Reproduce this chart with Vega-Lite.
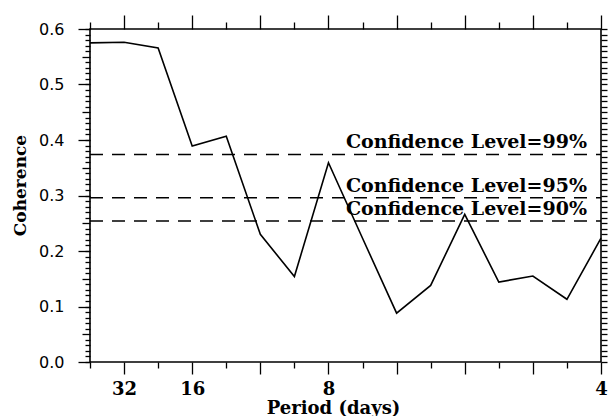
{
  "$schema": "https://vega.github.io/schema/vega-lite/v6.json",
  "width": 511,
  "height": 333,
  "autosize": {"type": "none"},
  "padding": {"left": 90, "top": 29, "right": 7, "bottom": 54},
  "background": "white",
  "config": {
    "view": {"stroke": "black", "strokeWidth": 1.6},
    "axis": {"domain": false, "grid": false, "tickColor": "black", "tickWidth": 1.3, "labelColor": "black", "titleColor": "black"}
  },
  "datasets": {
    "coherence": [
      {"harmonic": 1, "coherence": 0.575},
      {"harmonic": 2, "coherence": 0.576},
      {"harmonic": 3, "coherence": 0.566},
      {"harmonic": 4, "coherence": 0.389},
      {"harmonic": 5, "coherence": 0.407},
      {"harmonic": 6, "coherence": 0.230},
      {"harmonic": 7, "coherence": 0.154},
      {"harmonic": 8, "coherence": 0.359},
      {"harmonic": 9, "coherence": 0.223},
      {"harmonic": 10, "coherence": 0.088},
      {"harmonic": 11, "coherence": 0.138},
      {"harmonic": 12, "coherence": 0.266},
      {"harmonic": 13, "coherence": 0.144},
      {"harmonic": 14, "coherence": 0.155},
      {"harmonic": 15, "coherence": 0.113},
      {"harmonic": 16, "coherence": 0.223}
    ],
    "levels": [
      {"level": 0.374, "label": "Confidence Level=99%"},
      {"level": 0.296, "label": "Confidence Level=95%"},
      {"level": 0.254, "label": "Confidence Level=90%"}
    ]
  },
  "layer": [
    {
      "data": {"name": "coherence"},
      "mark": {"type": "line", "color": "black", "strokeWidth": 1.6},
      "encoding": {
        "x": {
          "field": "harmonic", "type": "quantitative",
          "scale": {"domain": [1, 16], "nice": false, "zero": false},
          "axis": {
            "orient": "bottom",
            "values": [1, 2, 3, 4, 5, 6, 7, 8, 9, 10, 11, 12, 13, 14, 15, 16],
            "tickSize": {"condition": {"test": "datum.value % 2 === 0", "value": 12}, "value": 6},
            "labelExpr": "indexof([2, 4, 8, 16], datum.value) >= 0 ? format(64 / datum.value, 'd') : ''",
            "labelFont": "DejaVu Serif", "labelFontWeight": "bold", "labelFontSize": 18,
            "labelPadding": 6, "labelFlush": false, "labelOverlap": false, "labelBound": false,
            "title": "Period (days)", "titleFont": "DejaVu Serif", "titleFontSize": 18, "titleFontWeight": "bold",
            "titleX": 243, "titleY": 51, "titleBaseline": "alphabetic"
          }
        },
        "y": {
          "field": "coherence", "type": "quantitative",
          "scale": {"domain": [0, 0.6], "nice": false},
          "axis": {
            "orient": "left",
            "values": [0, 0.1, 0.2, 0.3, 0.4, 0.5, 0.6],
            "format": ".1f", "tickSize": 12,
            "labelFont": "DejaVu Sans", "labelFontSize": 16, "labelPadding": 14,
            "title": "Coherence", "titleFont": "DejaVu Serif", "titleFontSize": 17, "titleFontWeight": "bold",
            "titleX": -65, "titleY": 156, "titleBaseline": "alphabetic"
          }
        }
      }
    },
    {
      "data": {"name": "levels"},
      "mark": {"type": "rule", "color": "black", "strokeWidth": 1.5, "strokeDash": [13, 9]},
      "encoding": {
        "x": {
          "datum": 1, "type": "quantitative",
          "axis": {
            "orient": "top",
            "values": [1, 2, 3, 4, 5, 6, 7, 8, 9, 10, 11, 12, 13, 14, 15, 16],
            "tickSize": {"condition": {"test": "datum.value % 2 === 0", "value": 14}, "value": 7},
            "labels": false, "title": null
          }
        },
        "x2": {"datum": 16},
        "y": {
          "field": "level", "type": "quantitative",
          "axis": {
            "orient": "left",
            "values": [0, 0.01, 0.02, 0.03, 0.04, 0.05, 0.06, 0.07, 0.08, 0.09, 0.1, 0.11, 0.12, 0.13, 0.14, 0.15, 0.16, 0.17, 0.18, 0.19, 0.2, 0.21, 0.22, 0.23, 0.24, 0.25, 0.26, 0.27, 0.28, 0.29, 0.3, 0.31, 0.32, 0.33, 0.34, 0.35, 0.36, 0.37, 0.38, 0.39, 0.4, 0.41, 0.42, 0.43, 0.44, 0.45, 0.46, 0.47, 0.48, 0.49, 0.5, 0.51, 0.52, 0.53, 0.54, 0.55, 0.56, 0.57, 0.58, 0.59, 0.6],
            "tickSize": {"condition": {"test": "abs((datum.value * 100) % 10 - 5) < 0.01", "value": 8}, "value": 5},
            "labels": false, "title": null
          }
        }
      }
    },
    {
      "data": {"name": "levels"},
      "mark": {"type": "text", "align": "right", "baseline": "alphabetic", "dx": -14, "dy": -6, "font": "DejaVu Serif", "fontWeight": "bold", "fontSize": 19, "color": "black"},
      "encoding": {
        "x": {"datum": 16, "type": "quantitative", "axis": null},
        "y": {
          "field": "level", "type": "quantitative",
          "axis": {
            "orient": "right",
            "values": [0, 0.01, 0.02, 0.03, 0.04, 0.05, 0.06, 0.07, 0.08, 0.09, 0.1, 0.11, 0.12, 0.13, 0.14, 0.15, 0.16, 0.17, 0.18, 0.19, 0.2, 0.21, 0.22, 0.23, 0.24, 0.25, 0.26, 0.27, 0.28, 0.29, 0.3, 0.31, 0.32, 0.33, 0.34, 0.35, 0.36, 0.37, 0.38, 0.39, 0.4, 0.41, 0.42, 0.43, 0.44, 0.45, 0.46, 0.47, 0.48, 0.49, 0.5, 0.51, 0.52, 0.53, 0.54, 0.55, 0.56, 0.57, 0.58, 0.59, 0.6],
            "tickSize": 6, "labels": false, "title": null
          }
        },
        "text": {"field": "label"}
      }
    }
  ],
  "resolve": {"axis": {"x": "independent", "y": "independent"}}
}
